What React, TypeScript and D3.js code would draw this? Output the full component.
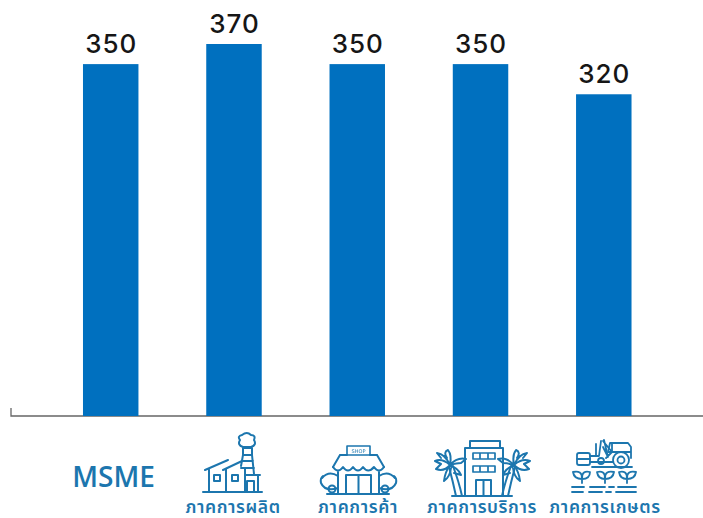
import React from "react";
import * as d3 from "d3";

const categories = ["ภาคการผลิต", "ภาคการค้า", "ภาคการบริการ", "ภาคการเกษตร"];
const allBars = ["MSME", ...categories];
const values = [350, 370, 350, 350, 320];
const baselineLabel = "MSME";

const W = 703, H = 518;
const BLUE = "#0070bf";
const ICON = "#1c76ae";

const x = d3.scaleBand<string>().domain(allBars).range([46, 668.5]).paddingInner(0.55).paddingOuter(0.3);
const y = d3.scaleLinear().domain([0, 370]).range([416, 44]);

const stroke = { fill: "none", stroke: ICON, strokeLinejoin: "round", strokeLinecap: "round" } as const;

const Factory = () => (
  <g {...stroke} strokeWidth={2}>
    <path d="M205 470 L228 460 M209 469 V492 M223 470 L242 461 M226 469 V492 M203 492 H262" />
    <path d="M243 448 H252 V455 H243 Z M243 455 L241 466 M252 455 L254 474 M243 461 H253 M241 468 H254" />
    <path d="M243 447 Q237 445 240 440 Q237 436 242 435 Q247 431 251 435 Q256 435 254 440 Q257 445 251 447 Z" />
    <rect x={214} y={475} width={6} height={6} />
    <rect x={232} y={475} width={6} height={6} />
    <path d="M245 475 H260 M258 475 V492 M245 469 V492 M247 492 V481 H254 V492" />
  </g>
);

const Shop = () => (
  <g {...stroke} strokeWidth={2}>
    <path d="M340 455 L333 467 M377 455 L384 467 M340 455 H347 M370 455 H377" />
    <rect x={347} y={446} width={23} height={9} strokeWidth={1.6} />
    <text x={358.5} y={453} textAnchor="middle" fontSize={5} fill={ICON} stroke="none" fontFamily="'DejaVu Sans'">SHOP</text>
    <path d="M333 467 Q338 474 343 467 Q348 474 353 467 Q358 474 363 467 Q368 474 374 467 Q379 474 384 467" />
    <path d="M338 472 V493 M379 472 V493 M346 493 V475 H371 V493 M358.5 475 V493" />
    <path d="M322 478 Q329 470 338 476 M395 478 Q388 470 379 476" />
    <path d="M338 488 Q325 492 321 483 Q320 478 323 476 M379 488 Q392 492 396 483 Q397 478 394 476" />
    <circle cx={332} cy={489} r={3.5} />
    <circle cx={385} cy={489} r={3.5} />
    <path d="M327 494 H389" />
  </g>
);

const Building = () => (
  <g {...stroke} strokeWidth={2}>
    <path d="M465 495 V448 L470 448 V441 H500 V448 H503 V495 M470 448 H500" />
    <path d="M473 453 H495 V459 H473 Z M473 466 H495 V472 H473 Z M480 453 V459 M488 453 V459 M480 466 V472 M488 466 V472" strokeWidth={1.7} />
    <path d="M476 495 V480 H491 V495 M483.5 480 V495 M452 496 H512" />
    <path d="M449 467 Q453 482 456 496 M453 466 Q459 482 462 496" />
    <path d="M450 465 Q442 458 435 461 L441 464 L436 469 Q444 472 450 465 Z M450 465 Q445 454 437 453 L441 458 M450 465 Q452 455 448 450 Q443 452 447 458 M450 465 Q457 457 466 459 L461 463 Q457 463 450 465 Z M450 465 Q445 472 444 481 Q450 477 451 468 M451 466 Q458 468 461 475 L454 473" />
    <path d="M515 467 Q511 482 508 496 M511 466 Q505 482 502 496" />
    <path d="M514 465 Q522 458 530 461 L524 464 L529 469 Q521 472 514 465 Z M514 465 Q519 454 527 453 L523 458 M514 465 Q512 455 516 450 Q521 452 517 458 M514 465 Q507 457 498 459 L503 463 Q507 463 514 465 Z M514 465 Q519 472 520 481 Q514 477 513 468 M513 466 Q506 468 503 475 L510 473" />
  </g>
);

const Tractor = () => (
  <g {...stroke} strokeWidth={1.8}>
    <rect x={577} y={453} width={13} height={12} rx={2} />
    <path d="M577 459 H590 M590 462 H613 M592 467 H632" />
    <path d="M590 456 L599 456 L601 441 M596 444 V456 M603 447 L608 457 L604 440 M603 441 L612 452 L606 458" />
    <path d="M608 452 L610 443 H628 L631 447 V458 M612 443 V452 H631 M608 452 H612" />
    <circle cx={621} cy={460} r={8} />
    <circle cx={621} cy={460} r={3.5} />
    <circle cx={601} cy={461} r={3} />
    <path d="M582 483 V476 M573 472 Q582 470 582 478 Q582 470 590 472 Q590 479 582 479 Q574 479 573 472 Z" />
    <path d="M605 483 V476 M597 472 Q605 470 605 478 Q605 470 614 472 Q613 479 605 479 Q598 479 597 472 Z" />
    <path d="M627 483 V476 M619 472 Q627 470 627 478 Q627 470 636 472 Q635 479 627 479 Q620 479 619 472 Z" />
    <path d="M572 487 H584 M590 487 H605 M609 487 H614 M618 487 H636" />
    <path d="M572 492 H583 M589 492 H602 M606 492 H611 M616 492 H636" />
  </g>
);

const labelX = [233, 358, 482, 605];

export default function App() {
  return (
    <svg
      width={W}
      height={H}
      viewBox={`0 0 ${W} ${H}`}
      style={{ position: "absolute", left: 0, top: 0, background: "#fff" }}
    >
      <defs>
        <filter id="soft" x="-5%" y="-5%" width="110%" height="110%">
          <feGaussianBlur stdDeviation={0.4} />
        </filter>
      </defs>
      <path d={`M11 408 V416 H${W}`} fill="none" stroke="#666" strokeWidth={1.3} />
      {allBars.map((c, i) => (
        <g key={c}>
          <rect x={x(c)} y={y(values[i])} width={x.bandwidth()} height={y(0) - y(values[i])} fill={BLUE} />
          <text
            x={x(c)! + x.bandwidth() / 2 + 0.5}
            y={y(values[i]) - 11}
            textAnchor="middle"
            fontFamily="Inter"
            fontWeight={500}
            letterSpacing={1}
            fontSize={26}
            fill="#161616"
          >
            {values[i]}
          </text>
        </g>
      ))}
      <text x={113.5} y={487} textAnchor="middle" fontFamily="'Open Sans'" fontWeight={600} fontSize={28} fill={ICON}>
        {baselineLabel}
      </text>
      <g filter="url(#soft)">
        <Factory />
        <Shop />
        <Building />
        <Tractor />
      </g>
      {categories.map((c, i) => (
        <text
          key={c}
          x={labelX[i]}
          y={512.5}
          textAnchor="middle"
          fontFamily="'Noto Sans', 'Noto Sans Thai', 'DejaVu Sans', sans-serif"
          fontWeight={600}
          letterSpacing={0.6}
          fontSize={17.5}
          fill={ICON}
        >
          {c}
        </text>
      ))}
    </svg>
  );
}
